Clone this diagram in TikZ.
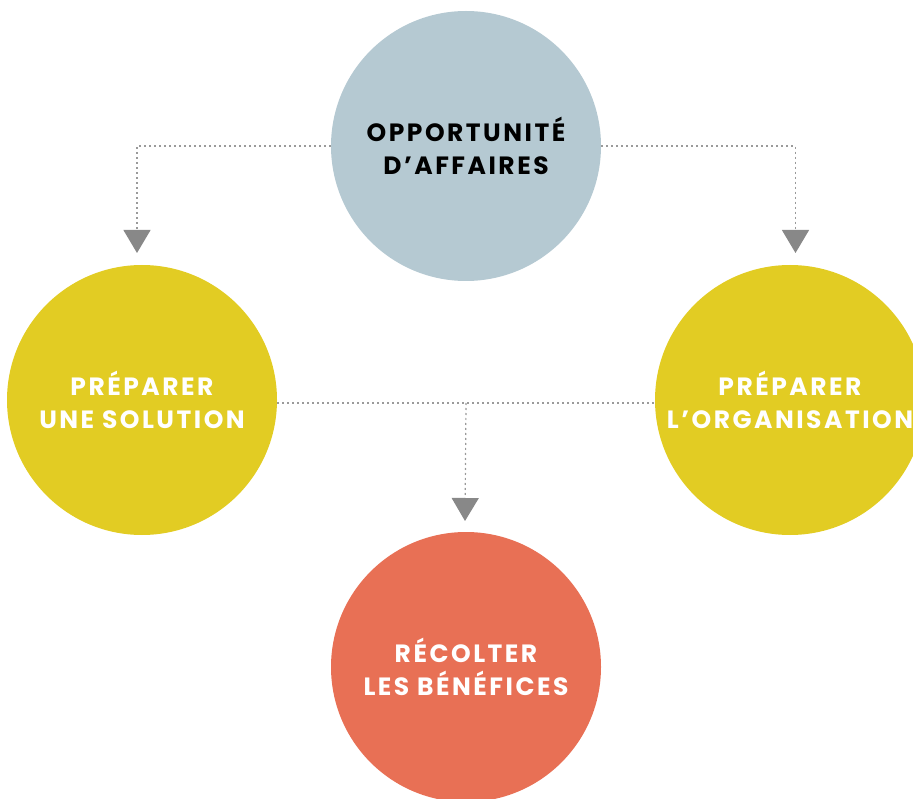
\documentclass[tikz,border=0pt]{standalone}
\usepackage{fontspec}
\setmainfont{Poppins}[LetterSpace=10]
\usetikzlibrary{arrows.meta,calc}
\definecolor{stepblue}{HTML}{B5C9D2}
\definecolor{stepyellow}{HTML}{E2CC23}
\definecolor{stepred}{HTML}{E87055}
\definecolor{linkgray}{HTML}{9A9A9A}
\definecolor{tipgray}{HTML}{888888}
\begin{document}
\begin{tikzpicture}[x=1pt,y=-1pt,
  phase/.style={circle,minimum size=270pt,inner sep=0pt,align=center,
    font=\fontsize{25}{33}\selectfont\bfseries},
  link/.style={draw=linkgray,line width=1.2pt,dash pattern=on 2pt off 3pt},
  down/.style={link,-{Triangle[width=27pt,length=23pt,fill=tipgray,color=tipgray]}}
]
\useasboundingbox (0,0) rectangle (913,799);
\clip (0,0) rectangle (913,799);
% the four phases
\node[phase,fill=stepblue,text=black] (opp) at (466,146) {OPPORTUNITÉ\\D’AFFAIRES};
\node[phase,fill=stepyellow,text=white] (sol) at (142,400) {PRÉPARER\\UNE SOLUTION};
\node[phase,fill=stepyellow,text=white] (org) at (790,400) {PRÉPARER\\L’ORGANISATION};
\node[phase,fill=stepred,text=white] (ben) at (466,667) {RÉCOLTER\\LES BÉNÉFICES};
% arrow ends above the target circles
\coordinate (toSol) at (137,253);
\coordinate (toOrg) at (795.5,253);
\coordinate (toBen) at (465,521);
\coordinate (join) at ($([yshift=-3pt]sol.east)!.5!([yshift=-3pt]org.west)$);
% connectors
\draw[down] (opp.west) -| (toSol);
\draw[down] (opp.east) -| (toOrg);
\draw[link] ([yshift=-3pt]sol.east) -- ([yshift=-3pt]org.west);
\draw[down] (join) -- (toBen);
\end{tikzpicture}
\end{document}
